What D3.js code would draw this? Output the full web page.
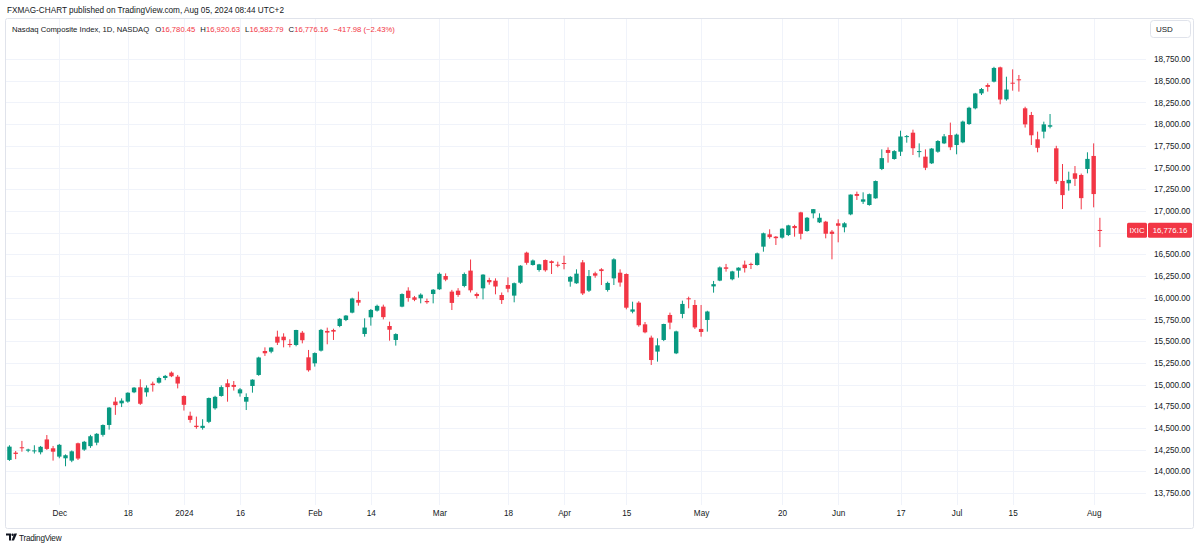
<!DOCTYPE html>
<html>
<head>
<meta charset="utf-8">
<script src="https://cdn.jsdelivr.net/npm/d3@7"></script>
<style>
  body { margin: 0; background: #fff; }
  svg { display: block; font-family: "Liberation Sans", Arial, sans-serif; }
</style>
</head>
<body>
<script>
// daily bars, Nasdaq Composite
const dates = [
  "2023-11-20","2023-11-21","2023-11-22","2023-11-24","2023-11-27","2023-11-28","2023-11-29","2023-11-30",
  "2023-12-01","2023-12-04","2023-12-05","2023-12-06","2023-12-07","2023-12-08","2023-12-11","2023-12-12",
  "2023-12-13","2023-12-14","2023-12-15","2023-12-18","2023-12-19","2023-12-20","2023-12-21","2023-12-22",
  "2023-12-26","2023-12-27","2023-12-28","2023-12-29",
  "2024-01-02","2024-01-03","2024-01-04","2024-01-05","2024-01-08","2024-01-09","2024-01-10","2024-01-11",
  "2024-01-12","2024-01-16","2024-01-17","2024-01-18","2024-01-19","2024-01-22","2024-01-23","2024-01-24",
  "2024-01-25","2024-01-26","2024-01-29","2024-01-30","2024-01-31",
  "2024-02-01","2024-02-02","2024-02-05","2024-02-06","2024-02-07","2024-02-08","2024-02-09","2024-02-12",
  "2024-02-13","2024-02-14","2024-02-15","2024-02-16","2024-02-20","2024-02-21","2024-02-22","2024-02-23",
  "2024-02-26","2024-02-27","2024-02-28","2024-02-29",
  "2024-03-01","2024-03-04","2024-03-05","2024-03-06","2024-03-07","2024-03-08","2024-03-11","2024-03-12",
  "2024-03-13","2024-03-14","2024-03-15","2024-03-18","2024-03-19","2024-03-20","2024-03-21","2024-03-22",
  "2024-03-25","2024-03-26","2024-03-27","2024-03-28",
  "2024-04-01","2024-04-02","2024-04-03","2024-04-04","2024-04-05","2024-04-08","2024-04-09","2024-04-10",
  "2024-04-11","2024-04-12","2024-04-15","2024-04-16","2024-04-17","2024-04-18","2024-04-19","2024-04-22",
  "2024-04-23","2024-04-24","2024-04-25","2024-04-26","2024-04-29","2024-04-30",
  "2024-05-01","2024-05-02","2024-05-03","2024-05-06","2024-05-07","2024-05-08","2024-05-09","2024-05-10",
  "2024-05-13","2024-05-14","2024-05-15","2024-05-16","2024-05-17","2024-05-20","2024-05-21","2024-05-22",
  "2024-05-23","2024-05-24","2024-05-28","2024-05-29","2024-05-30","2024-05-31",
  "2024-06-03","2024-06-04","2024-06-05","2024-06-06","2024-06-07","2024-06-10","2024-06-11","2024-06-12",
  "2024-06-13","2024-06-14","2024-06-17","2024-06-18","2024-06-20","2024-06-21","2024-06-24","2024-06-25",
  "2024-06-26","2024-06-27","2024-06-28",
  "2024-07-01","2024-07-02","2024-07-03","2024-07-05","2024-07-08","2024-07-09","2024-07-10","2024-07-11",
  "2024-07-12","2024-07-15","2024-07-16","2024-07-17","2024-07-18","2024-07-19","2024-07-22","2024-07-23",
  "2024-07-24","2024-07-25","2024-07-26","2024-07-29","2024-07-30","2024-07-31",
  "2024-08-01","2024-08-02"
];

const opens = [
  14131,14215,14277,14238,14232,14219,14367,14265,
  14169,14150,14123,14323,14250,14290,14330,14420,
  14534,14803,14783,14803,14910,14968,14910,15010,
  15021,15075,15137,15090,
  14868,14640,14525,14500,14570,14726,14868,15014,
  14995,14898,14802,14983,15110,15386,15378,15551,
  15551,15467,15455,15597,15313,
  15244,15390,15617,15628,15674,15743,15828,15974,
  15582,15774,15851,15897,15674,15513,15897,16081,
  16004,15993,15962,16043,
  16097,16250,16070,16081,16135,16312,16043,16108,
  16204,16196,16031,16146,16024,16173,16519,16377,
  16319,16434,16420,16380,
  16400,16185,16166,16407,16081,16281,16327,16089,
  16223,16288,16273,15839,15943,15693,15540,15379,
  15513,15801,15359,15813,15993,15916,
  15640,15743,16130,16197,16350,16212,16312,16381,
  16389,16377,16588,16730,16703,16692,16722,16826,
  16983,16768,16972,16868,16876,16761,
  16857,16811,16960,17195,17106,17068,17145,17483,
  17702,17598,17682,17850,17901,17680,17625,17548,
  17682,17778,17874,
  17759,17790,18001,18182,18354,18450,18489,18654,
  18285,18477,18516,18182,18105,17825,17913,17970,
  17721,17345,17318,17433,17414,17483,
  17633,16780.45
];

const highs = [
  14300,14234,14350,14260,14300,14292,14418,14292,
  14315,14195,14240,14330,14350,14420,14440,14540,
  14740,14853,14840,14910,14970,15060,14990,15033,
  15090,15110,15150,15110,
  14875,14687,14630,14600,14850,14870,14990,15060,
  15040,14960,14898,15060,15320,15428,15430,15620,
  15590,15521,15630,15617,15398,
  15370,15640,15655,15643,15765,15800,16000,16070,
  15762,15870,15920,15920,15724,15590,16050,16120,
  16020,16050,15990,16100,
  16290,16280,16090,16110,16290,16440,16060,16270,
  16230,16223,16060,16235,16175,16375,16530,16440,
  16390,16440,16430,16415,
  16484,16250,16327,16434,16319,16300,16340,16185,
  16454,16327,16280,15954,15960,15720,15563,15532,
  15700,15828,15620,15966,16012,15974,
  15916,15850,16193,16360,16389,16310,16350,16427,
  16404,16520,16750,16788,16710,16800,16840,16840,
  16990,16930,17022,16972,16885,16780,
  16903,16870,17190,17222,17214,17200,17350,17709,
  17732,17700,17924,17874,17936,17778,17709,17725,
  17815,17886,18017,
  17890,18040,18200,18360,18416,18470,18660,18662,
  18546,18631,18566,18200,18140,17913,18028,18116,
  17750,17540,17452,17517,17430,17675,
  17778,16920.63
];

const lows = [
  14120,14140,14226,14220,14205,14195,14246,14123,
  14150,14058,14105,14130,14235,14270,14300,14400,
  14480,14650,14740,14790,14900,14765,14860,14918,
  15010,15050,15085,14955,
  14700,14560,14490,14480,14555,14710,14860,14802,
  14930,14860,14706,14906,15100,15329,15360,15455,
  15428,15428,15440,15474,15148,
  15206,15380,15463,15513,15660,15730,15820,15908,
  15551,15678,15840,15750,15505,15448,15890,15954,
  15960,15935,15930,15935,
  16090,16190,15858,16010,16120,16060,15990,15981,
  16150,16039,15928,16062,15947,16160,16380,16370,
  16300,16300,16273,16350,
  16327,16127,16160,16031,16066,16230,16146,16070,
  16146,16127,15866,15820,15666,15590,15225,15263,
  15500,15636,15350,15763,15878,15640,
  15551,15609,16058,16190,16300,16200,16231,16290,
  16330,16370,16530,16680,16607,16680,16710,16703,
  16672,16760,16914,16860,16684,16442,
  16638,16753,16950,17126,17080,17060,17140,17470,
  17556,17590,17633,17786,17644,17617,17470,17540,
  17670,17770,17700,
  17652,17780,17990,18170,18335,18374,18480,18228,
  18270,18385,18374,17960,17759,17675,17836,17951,
  17310,17022,17233,17287,17018,17433,
  17041,16582.79
];

const closes = [
  14284,14200,14266,14251,14241,14282,14258,14226,
  14305,14185,14230,14147,14340,14404,14432,14533,
  14734,14762,14814,14905,14964,14778,14963,14993,
  15075,15099,15095,15011,
  14766,14592,14510,14524,14844,14858,14970,14970,
  14973,14944,14856,15056,15311,15360,15426,15482,
  15510,15455,15628,15510,15164,
  15362,15629,15598,15609,15757,15794,15991,15943,
  15656,15859,15906,15776,15631,15581,16042,15997,
  15976,16035,15948,16092,
  16275,16208,15940,16032,16273,16085,16019,16266,
  16178,16129,15973,16103,16167,16369,16402,16429,
  16384,16316,16400,16379,
  16397,16240,16277,16049,16249,16254,16307,16170,
  16442,16175,15885,15865,15683,15601,15282,15451,
  15697,15713,15612,15928,15983,15658,
  15605,15841,16156,16349,16333,16303,16346,16341,
  16388,16511,16742,16698,16686,16795,16833,16802,
  16736,16921,17020,16921,16737,16735,
  16829,16857,17188,17173,17133,17193,17344,17608,
  17668,17689,17857,17862,17722,17689,17497,17718,
  17805,17859,17733,
  17879,18029,18188,18353,18404,18429,18647,18283,
  18398,18473,18509,17997,17871,17727,17997,17987,
  17342,17182,17358,17370,17147,17599,
  17194,16776.16
];

const priceTicks = [13750,14000,14250,14500,14750,15000,15250,15500,15750,16000,
  16250,16500,16750,17000,17250,17500,17750,18000,18250,18500,18750];

const timeTickDates = ["2023-12-01","2023-12-18","2024-01-02","2024-01-16","2024-02-01","2024-02-14",
  "2024-03-01","2024-03-18","2024-04-01","2024-04-15","2024-05-01","2024-05-20","2024-06-03",
  "2024-06-17","2024-07-01","2024-07-15","2024-08-01"];
const timeTickLabels = ["Dec","18","2024","16","Feb","14","Mar","18","Apr","15","May","20","Jun",
  "17","Jul","15","Aug"];

const prevClose = 17194.14;
const lastClose = closes[closes.length - 1];

const W = 1200, H = 549;
const UP = "#089981", DOWN = "#f23645", TXT = "#131722", GRID = "#f0f3fa", BORDER = "#e0e3eb";
const fmt = d3.format(",.2f");

const svg = d3.select("body").append("svg")
  .attr("width", W)
  .attr("height", H);

svg.append("rect").attr("width", W).attr("height", H).attr("fill", "#fff");

const x = d3.scalePoint()
  .domain(dates)
  .range([9.45, 1099.9]);

const y = d3.scaleLinear()
  .domain([13750, 18750])
  .range([493, 59]);

// pane frame
svg.append("rect")
  .attr("x", 5.5).attr("y", 18.5)
  .attr("width", 1188).attr("height", 510)
  .attr("rx", 2)
  .attr("fill", "none")
  .attr("stroke", BORDER);

// grid
svg.append("g").selectAll("line")
  .data(priceTicks)
  .join("line")
  .attr("x1", 6).attr("x2", 1146)
  .attr("y1", d => Math.round(y(d)) + 0.5)
  .attr("y2", d => Math.round(y(d)) + 0.5)
  .attr("stroke", GRID);

svg.append("g").selectAll("line")
  .data(timeTickDates)
  .join("line")
  .attr("x1", d => Math.round(x(d)) + 0.5)
  .attr("x2", d => Math.round(x(d)) + 0.5)
  .attr("y1", 19).attr("y2", 505)
  .attr("stroke", GRID);

// candles
const bars = dates.map((d, i) => ({date: d, o: opens[i], h: highs[i], l: lows[i], c: closes[i]}));

const candle = svg.append("g").selectAll("g")
  .data(bars)
  .join("g")
  .attr("fill", d => d.c >= d.o ? UP : DOWN)
  .attr("stroke", d => d.c >= d.o ? UP : DOWN);

candle.append("line")
  .attr("x1", d => x(d.date)).attr("x2", d => x(d.date))
  .attr("y1", d => y(d.h)).attr("y2", d => y(d.l))
  .attr("stroke-width", 1);

candle.append("rect")
  .attr("x", d => x(d.date) - 2.2)
  .attr("width", 4.4)
  .attr("y", d => y(Math.max(d.o, d.c)))
  .attr("height", d => Math.max(1, Math.abs(y(d.o) - y(d.c))))
  .attr("stroke", "none");

// price axis (label under the last price tag is hidden, as on the snapshot)
const axisTicks = priceTicks.filter(v => Math.abs(y(v) - y(lastClose)) > 9);
const yAxis = svg.append("g")
  .attr("transform", "translate(1154,0)")
  .call(d3.axisRight(y).tickValues(axisTicks).tickFormat(fmt).tickSize(0).tickPadding(0));
yAxis.select(".domain").remove();
yAxis.selectAll("text").attr("fill", TXT).attr("font-size", 8.2).attr("font-family", null);

// time axis
const xAxis = svg.append("g")
  .attr("transform", "translate(0,510)")
  .call(d3.axisBottom(x).tickValues(timeTickDates).tickFormat((d, i) => timeTickLabels[i]).tickSize(0).tickPadding(0));
xAxis.select(".domain").remove();
xAxis.selectAll("text").attr("fill", TXT).attr("font-size", 8.2).attr("font-family", null);

// USD box
svg.append("rect")
  .attr("x", 1150.5).attr("y", 20.5).attr("width", 40).attr("height", 17).attr("rx", 3)
  .attr("fill", "#fff").attr("stroke", BORDER);
svg.append("text")
  .attr("x", 1156).attr("y", 32)
  .attr("font-size", 8).attr("fill", TXT)
  .text("USD");

// last price tag
const ly = y(lastClose);
svg.append("rect").attr("x", 1127).attr("y", ly - 7.5).attr("width", 20).attr("height", 15).attr("rx", 1.5).attr("fill", DOWN);
svg.append("rect").attr("x", 1148).attr("y", ly - 7.5).attr("width", 44).attr("height", 15).attr("rx", 1.5).attr("fill", DOWN);
svg.append("text").attr("x", 1137).attr("y", ly + 3).attr("text-anchor", "middle")
  .attr("font-size", 7.8).attr("fill", "#fff").text("IXIC");
svg.append("text").attr("x", 1170).attr("y", ly + 3).attr("text-anchor", "middle")
  .attr("font-size", 7.8).attr("fill", "#fff").text(fmt(lastClose));

// header
svg.append("text")
  .attr("x", 7).attr("y", 13)
  .attr("font-size", 8.2).attr("fill", TXT)
  .text("FXMAG-CHART published on TradingView.com, Aug 05, 2024 08:44 UTC+2");

// legend line
const n = closes.length - 1;
const chg = lastClose - prevClose;
const legend = svg.append("text")
  .attr("x", 12).attr("y", 32)
  .attr("font-size", 7.7).attr("fill", TXT);
legend.append("tspan").text("Nasdaq Composite Index, 1D, NASDAQ");
[["O", opens[n]], ["H", highs[n]], ["L", lows[n]], ["C", closes[n]]].forEach(([k, v], i) => {
  legend.append("tspan").attr("dx", i === 0 ? 6 : 5).attr("fill", TXT).text(k);
  legend.append("tspan").attr("fill", DOWN).text(fmt(v));
});
legend.append("tspan").attr("dx", 5).attr("fill", DOWN)
  .text(d3.format(",.2f")(chg).replace("-", "\u2212") + " (" +
        d3.format(".2%")(chg / prevClose).replace("-", "\u2212") + ")");

// footer logo
const logo = svg.append("g").attr("transform", "translate(6,533.5)").attr("fill", TXT);
logo.append("path").attr("d", "M0,0 H5 V7 H3 V2 H0 Z");
logo.append("circle").attr("cx", 6.6).attr("cy", 1.2).attr("r", 1.2);
logo.append("path").attr("d", "M8.3,0 H11 L8,7 H5.5 Z");
svg.append("text")
  .attr("x", 19).attr("y", 540.5)
  .attr("font-size", 8.2).attr("fill", TXT)
  .attr("letter-spacing", -0.25)
  .text("TradingView");
</script>
</body>
</html>
